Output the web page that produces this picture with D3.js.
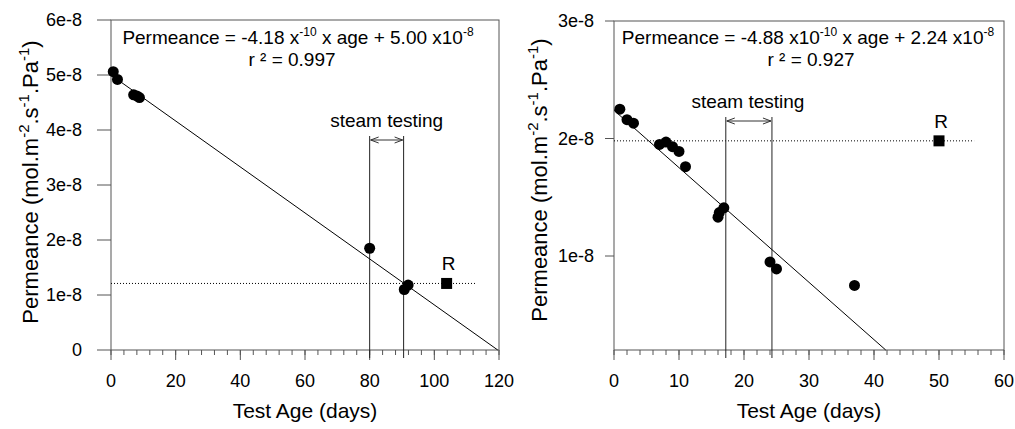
<!DOCTYPE html>
<html><head><meta charset="utf-8">
<script src="https://cdn.jsdelivr.net/npm/d3@7"></script>
<style>
body{margin:0;background:#fff;}
svg{font-family:"Liberation Sans",Arial,sans-serif;}
</style></head>
<body><svg id="c" width="1015" height="429"></svg>
<script>
// ---- Data ----
const leftAges   = [0.7, 2, 7, 8, 8.8, 80, 90.7, 91.9];
const leftPerm   = [5.06e-8, 4.92e-8, 4.64e-8, 4.62e-8, 4.59e-8, 1.85e-8, 1.10e-8, 1.18e-8];
const leftRef    = {age: 103.8, perm: 1.21e-8, lineEnd: 112.6};
const leftSteam  = [80, 90.5];
const leftFit    = {slope: -4.18e-10, intercept: 5.00e-8};
const leftXTicks = [0, 20, 40, 60, 80, 100, 120];
const leftYTicks = [0, 1e-8, 2e-8, 3e-8, 4e-8, 5e-8, 6e-8];
const leftYLabels = ["0", "1e-8", "2e-8", "3e-8", "4e-8", "5e-8", "6e-8"];

const rightAges  = [0.9, 2, 3, 7, 8, 9, 10, 11, 16, 16.2, 16.9, 24, 25, 37];
const rightPerm  = [2.25e-8, 2.16e-8, 2.13e-8, 1.95e-8, 1.97e-8, 1.93e-8, 1.89e-8, 1.76e-8, 1.33e-8, 1.37e-8, 1.41e-8, 0.95e-8, 0.89e-8, 0.75e-8];
const rightRef   = {age: 50, perm: 1.98e-8, lineEnd: 55.4};
const rightSteam = [17.2, 24.3];
const rightFit   = {slope: -4.88e-10, intercept: 2.24e-8};
const rightXTicks = [0, 10, 20, 30, 40, 50, 60];
const rightYTicks = [1e-8, 2e-8, 3e-8];
const rightYLabels = ["1e-8", "2e-8", "3e-8"];

const svg = d3.select("#c");

function panel(o){
  const g = svg.append("g");
  const x = d3.scaleLinear().domain(o.xDomain).range([o.left, o.right]);
  const y = d3.scaleLinear().domain(o.yDomain).range([o.bottom, o.top]);
  const axisCol = "#555";

  // frame
  g.append("rect").attr("x", o.left).attr("y", o.top)
    .attr("width", o.right - o.left).attr("height", o.bottom - o.top)
    .attr("fill", "none").attr("stroke", axisCol).attr("stroke-width", 1);

  // x axis minor + major
  const minor = d3.range(o.xDomain[0], o.xDomain[1] + 1e-9, o.xMinor);
  g.selectAll(".xm").data(minor).join("line")
    .attr("x1", d => x(d)).attr("x2", d => x(d))
    .attr("y1", o.bottom).attr("y2", o.bottom + 5)
    .attr("stroke", axisCol);
  g.selectAll(".xM").data(o.xTicks).join("line")
    .attr("x1", d => x(d)).attr("x2", d => x(d))
    .attr("y1", o.bottom).attr("y2", o.bottom + 10)
    .attr("stroke", axisCol);
  g.selectAll(".xl").data(o.xTicks).join("text")
    .attr("x", d => x(d)).attr("y", 387)
    .attr("text-anchor", "middle").attr("font-size", 18)
    .text(d => d);

  // y axis ticks
  g.selectAll(".yt").data(o.yTicks).join("line")
    .attr("x1", o.left - o.yTickLen).attr("x2", o.left)
    .attr("y1", d => y(d)).attr("y2", d => y(d))
    .attr("stroke", axisCol);
  g.selectAll(".yl").data(o.yTicks).join("text")
    .attr("x", o.yLabelX).attr("y", d => y(d)).attr("dy", "0.35em")
    .attr("text-anchor", "end").attr("font-size", 18)
    .text((d, i) => o.yLabels[i]);

  // axis titles
  g.append("text").attr("x", (o.left + o.right) / 2).attr("y", 418)
    .attr("text-anchor", "middle").attr("font-size", 21).text("Test Age (days)");
  const yt = g.append("text")
    .attr("transform", `translate(${o.yTitleX},${o.yTitleY}) rotate(-90)`)
    .attr("text-anchor", "middle").attr("font-size", 22);
  yt.append("tspan").text("Permeance (mol.m");
  yt.append("tspan").attr("dy", -9).attr("font-size", 15).text("-2");
  yt.append("tspan").attr("dy", 9).text(".s");
  yt.append("tspan").attr("dy", -9).attr("font-size", 15).text("-1");
  yt.append("tspan").attr("dy", 9).text(".Pa");
  yt.append("tspan").attr("dy", -9).attr("font-size", 15).text("-1");
  yt.append("tspan").attr("dy", 9).text(")");

  // reference dotted line
  g.append("line").attr("x1", x(o.xDomain[0])).attr("x2", x(o.ref.lineEnd))
    .attr("y1", y(o.ref.perm)).attr("y2", y(o.ref.perm))
    .attr("stroke", "#000").attr("stroke-dasharray", "1,2");

  // steam lines
  g.selectAll(".st").data(o.steam).join("line")
    .attr("x1", d => x(d)).attr("x2", d => x(d))
    .attr("y1", o.steamTop).attr("y2", o.bottom + 8)
    .attr("stroke", "#222");
  const ay = o.steamTop + 4;
  const ax1 = x(o.steam[0]) + 1, ax2 = x(o.steam[1]) - 1;
  g.append("line").attr("x1", ax1).attr("x2", ax2).attr("y1", ay).attr("y2", ay).attr("stroke", "#333");
  g.append("path").attr("d", `M${ax1+8},${ay-3}L${ax1},${ay}L${ax1+8},${ay+3}M${ax2-8},${ay-3}L${ax2},${ay}L${ax2-8},${ay+3}`)
    .attr("fill", "none").attr("stroke", "#333");
  g.append("text").attr("x", (x(o.steam[0]) + x(o.steam[1])) / 2 + o.steamDx).attr("y", o.steamTop - 9)
    .attr("text-anchor", "middle").attr("font-size", 19).text("steam testing");

  // regression line
  const xEnd = Math.min(o.xDomain[1], (o.yDomain[0] - o.fit.intercept) / o.fit.slope);
  g.append("line").attr("x1", x(0)).attr("y1", y(o.fit.intercept))
    .attr("x2", x(xEnd)).attr("y2", y(o.fit.intercept + o.fit.slope * xEnd))
    .attr("stroke", "#000").attr("stroke-width", 1);

  // points
  g.selectAll(".pt").data(o.ages).join("circle")
    .attr("cx", d => x(d)).attr("cy", (d, i) => y(o.perm[i])).attr("r", 5.5).attr("fill", "#000");

  // R square
  g.append("rect").attr("x", x(o.ref.age) - 5.5).attr("y", y(o.ref.perm) - 5.5)
    .attr("width", 11).attr("height", 11).attr("fill", "#000");
  g.append("text").attr("x", x(o.ref.age) + 2).attr("y", y(o.ref.perm) - 13)
    .attr("text-anchor", "middle").attr("font-size", 19).text("R");

  // equation
  const eq = g.append("text").attr("x", o.eqX).attr("y", 44).attr("text-anchor", "middle").attr("font-size", 19);
  o.eq.forEach(p => {
    if (p.sup) eq.append("tspan").attr("dy", -8).attr("font-size", 12).text(p.sup);
    else eq.append("tspan").attr("dy", p.after ? 8 : 0).text(p.t);
  });
  g.append("text").attr("x", o.r2X).attr("y", 66).attr("text-anchor", "middle").attr("font-size", 19).text(o.r2);
}

panel({
  left: 111, right: 499, top: 20, bottom: 350,
  xDomain: [0, 120], yDomain: [0, 6e-8], xMinor: 4,
  xTicks: leftXTicks, yTicks: leftYTicks, yLabels: leftYLabels,
  yTickLen: 14, yLabelX: 82, yTitleX: 38, yTitleY: 182,
  ages: leftAges, perm: leftPerm, ref: leftRef, steam: leftSteam, fit: leftFit,
  steamTop: 136, steamDx: 0,
  eqX: 298, r2X: 292, r2: "r ² = 0.997",
  eq: [{t: "Permeance = -4.18 x"}, {sup: "-10"}, {t: " x age + 5.00 x10", after: true}, {sup: "-8"}]
});
panel({
  left: 614, right: 1004, top: 21, bottom: 350,
  xDomain: [0, 60], yDomain: [0.2e-8, 3e-8], xMinor: 2,
  xTicks: rightXTicks, yTicks: rightYTicks, yLabels: rightYLabels,
  yTickLen: 9, yLabelX: 594, yTitleX: 547, yTitleY: 180,
  ages: rightAges, perm: rightPerm, ref: rightRef, steam: rightSteam, fit: rightFit,
  steamTop: 117, steamDx: -1,
  eqX: 808, r2X: 811, r2: "r ² = 0.927",
  eq: [{t: "Permeance = -4.88 x10"}, {sup: "-10"}, {t: " x age + 2.24 x10", after: true}, {sup: "-8"}]
});
</script></body></html>
